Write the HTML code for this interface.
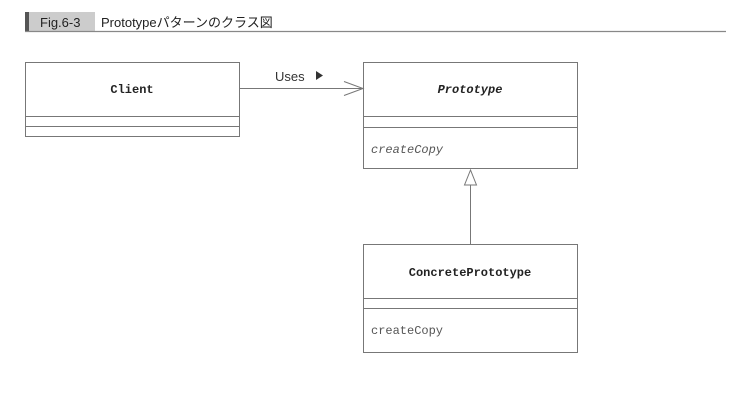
<!DOCTYPE html>
<html><head><meta charset="utf-8"><style>
body{margin:0;background:#fff;width:754px;height:402px;overflow:hidden}
</style></head><body>
<svg width="754" height="402" xmlns="http://www.w3.org/2000/svg">
<rect x="25" y="12" width="4" height="20" fill="#555"/>
<rect x="29" y="12" width="66" height="20" fill="#ccc"/>
<line x1="25" y1="31.5" x2="726" y2="31.5" stroke="#888" stroke-width="1.2"/>
<text x="40" y="27" font-family="Liberation Sans, sans-serif" font-size="13" fill="#222">Fig.6-3</text>
<text x="101" y="27" font-family="Liberation Sans, 'Noto Sans CJK JP', sans-serif" font-size="13" fill="#222">Prototypeパターンのクラス図</text>
<g fill="none" stroke="#777" stroke-width="1">
<rect x="25.5" y="62.5" width="214" height="74"/>
<line x1="25.5" y1="116.5" x2="239.5" y2="116.5"/>
<line x1="25.5" y1="126.5" x2="239.5" y2="126.5"/>
<rect x="363.5" y="62.5" width="214" height="106"/>
<line x1="363.5" y1="116.5" x2="577.5" y2="116.5"/>
<line x1="363.5" y1="127.5" x2="577.5" y2="127.5"/>
<rect x="363.5" y="244.5" width="214" height="108"/>
<line x1="363.5" y1="298.5" x2="577.5" y2="298.5"/>
<line x1="363.5" y1="308.5" x2="577.5" y2="308.5"/>
<line x1="239.5" y1="88.5" x2="363" y2="88.5"/>
<polyline points="344,81.5 363,88.5 344,95.5"/>
<line x1="470.5" y1="185" x2="470.5" y2="244"/>
<polygon points="470.5,170 464.5,185 476.5,185" fill="#fff"/>
</g>
<g font-family="Liberation Mono, monospace" font-size="12" fill="#222">
<text x="132" y="93" text-anchor="middle" font-weight="bold">Client</text>
<text x="470" y="93" text-anchor="middle" font-weight="bold" font-style="italic">Prototype</text>
<text x="371" y="153" font-style="italic" fill="#555">createCopy</text>
<text x="470" y="276" text-anchor="middle" font-weight="bold">ConcretePrototype</text>
<text x="371" y="334" fill="#555">createCopy</text>
</g>
<text x="275" y="81" font-family="Liberation Sans, sans-serif" font-size="13" fill="#333">Uses</text>
<polygon points="316,71 316,80 323,75.5" fill="#333"/>
</svg>
</body></html>
